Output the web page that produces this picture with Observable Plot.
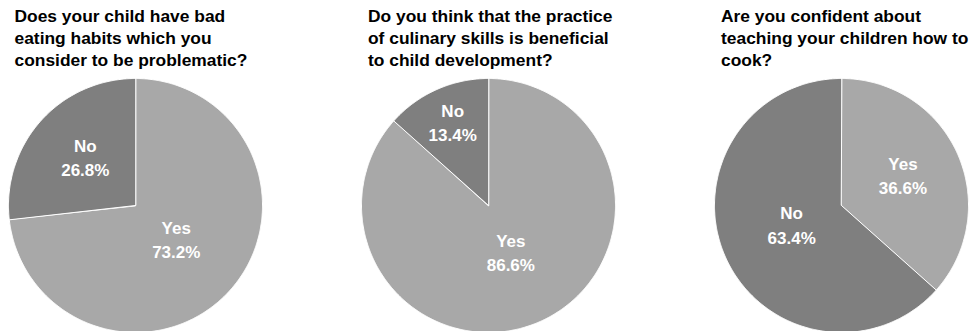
<!DOCTYPE html>
<html><head><meta charset="utf-8">
<script src="https://cdn.jsdelivr.net/npm/d3@7"></script>
<script src="https://cdn.jsdelivr.net/npm/@observablehq/plot@0.6"></script>
<style>
body{margin:0;background:#fff;font-family:"Liberation Sans",Arial,sans-serif;}
#wrap{position:relative;width:973px;height:331px;overflow:hidden;}
.title{position:absolute;top:5px;font-weight:bold;font-size:17.4px;line-height:22px;color:#000;white-space:nowrap;}
.pie{position:absolute;}
</style></head><body><div id="wrap"></div>
<script>
// ---- data ----
const titleLines = [
  ["Does your child have bad", "eating habits which you", "consider to be problematic?"],
  ["Do you think that the practice", "of culinary skills is beneficial", "to child development?"],
  ["Are you confident about", "teaching your children how to", "cook?"]
];
const categories = ["Yes", "No"];
const yesValues = [73.2, 86.6, 36.6];
const noValues = [26.8, 13.4, 63.4];
const colors = ["#a8a8a8", "#7f7f7f"];

// ---- layout ----
const R = 127;          // pie radius in px
const S = 260;          // svg size
const centersX = [134.5, 488, 841];
const centerY = 205;
const ext = S / 2 / R;

const wrap = document.getElementById("wrap");

function labelRatio(f) {
  if (f >= 0.5) return 0.43;
  if (f >= 0.2) return 0.53;
  return 0.69;
}

titleLines.forEach((lines, i) => {
  const t = document.createElement("div");
  t.className = "title";
  t.style.left = (centersX[i] - 120) + "px";
  t.innerHTML = lines.join("<br>");
  wrap.appendChild(t);

  const values = [yesValues[i], noValues[i]];
  const total = d3.sum(values);
  const pts = [];
  const labels = [];
  let acc = 0;
  values.forEach((v, k) => {
    const a0 = acc / total * 2 * Math.PI;
    const a1 = (acc + v) / total * 2 * Math.PI;
    const n = Math.max(2, Math.ceil((a1 - a0) / (Math.PI / 360)));
    pts.push({slice: categories[k], x: 0, y: 0});
    for (let j = 0; j <= n; j++) {
      const a = a0 + (a1 - a0) * j / n;
      pts.push({slice: categories[k], x: Math.sin(a), y: Math.cos(a)});
    }
    const am = (a0 + a1) / 2;
    const r = labelRatio(v / total);
    labels.push({x: r * Math.sin(am), y: r * Math.cos(am), text: `${categories[k]}\n${v.toFixed(1)}%`});
    acc += v;
  });

  const chart = Plot.plot({
    width: S, height: S,
    margin: 0,
    x: {domain: [-ext, ext], axis: null},
    y: {domain: [-ext, ext], axis: null},
    color: {domain: categories, range: colors},
    style: {fontFamily: "Liberation Sans, Arial, sans-serif", background: "transparent"},
    marks: [
      Plot.line(pts, {x: "x", y: "y", z: "slice", fill: "slice", stroke: "#ffffff", strokeWidth: 1, curve: "linear-closed"}),
      Plot.text(labels, {x: "x", y: "y", text: "text", fill: "white", fontWeight: "bold", fontSize: 17, lineHeight: 1.42, dy: -4})
    ]
  });
  chart.classList.add("pie");
  chart.style.left = (centersX[i] - S / 2) + "px";
  chart.style.top = (centerY - S / 2) + "px";
  wrap.appendChild(chart);
});
</script>
</body></html>
